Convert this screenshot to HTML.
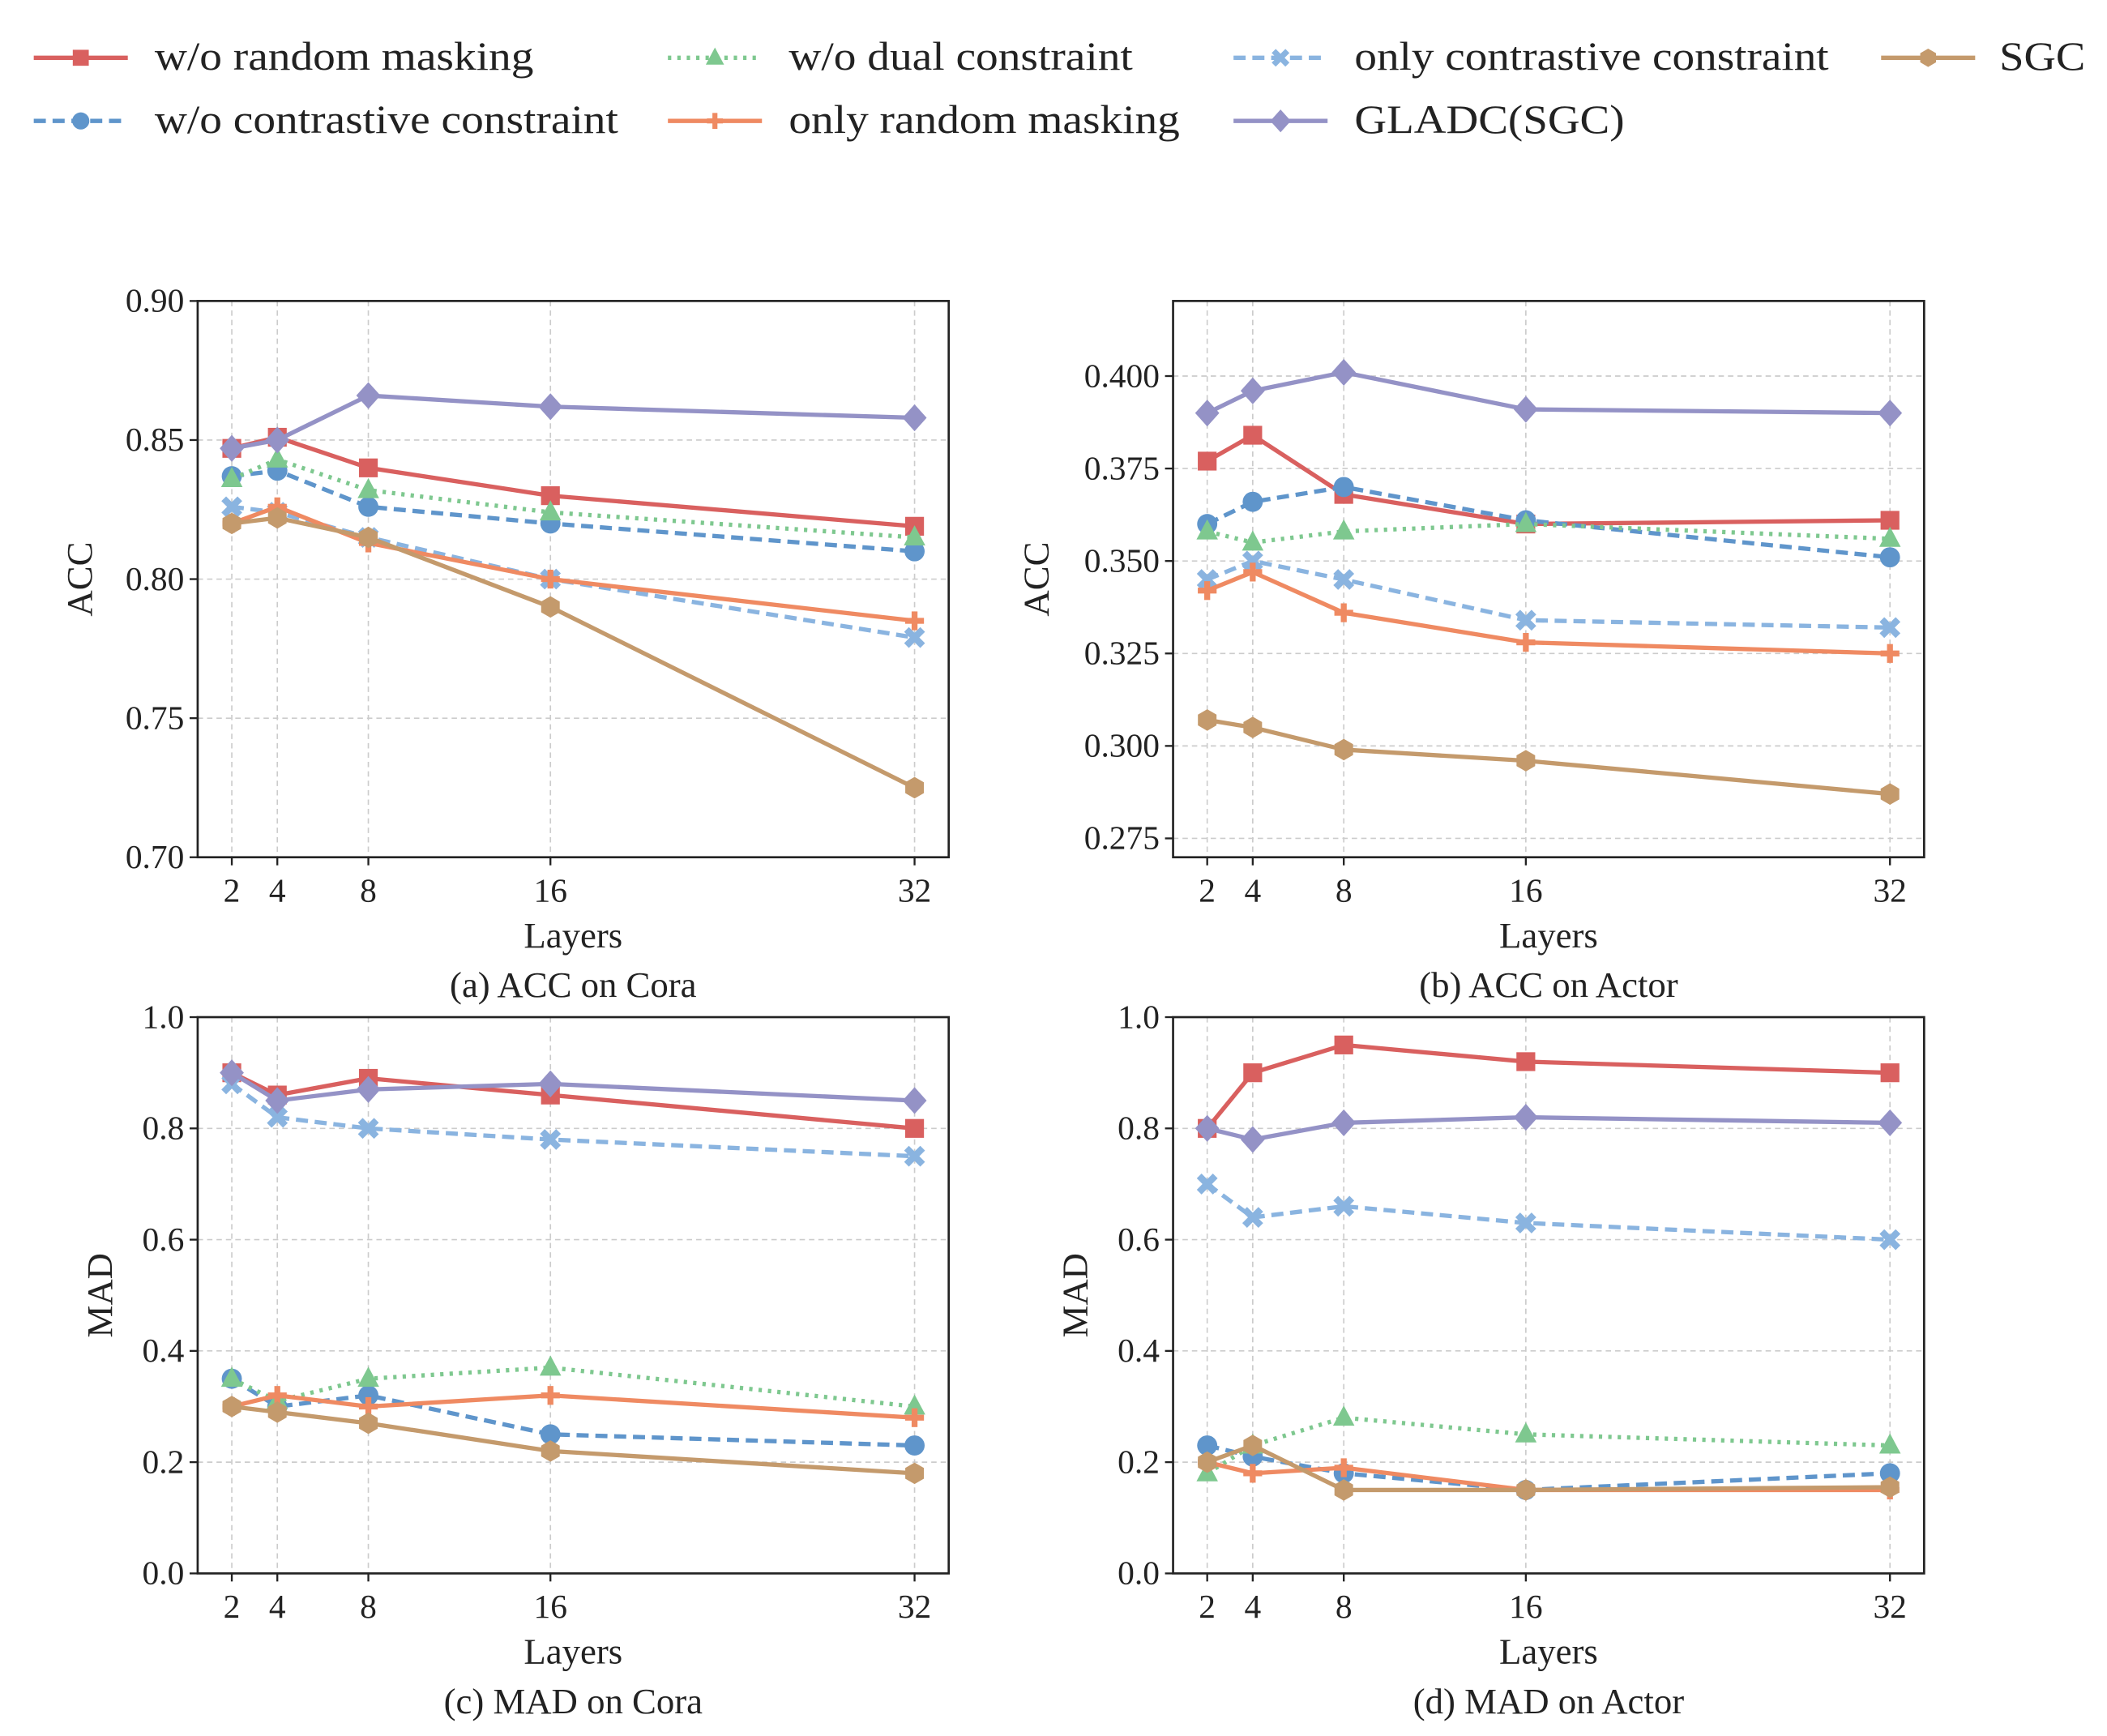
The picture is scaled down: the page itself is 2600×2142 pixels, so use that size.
<!DOCTYPE html>
<html><head><meta charset="utf-8"><style>
html,body{margin:0;padding:0;background:#fff}
svg{display:block;font-family:"Liberation Serif",serif}
</style></head><body>
<svg id="fig" width="2600" height="2142" viewBox="0 0 1568 1292" xmlns="http://www.w3.org/2000/svg"></svg>
<script>
const layers = [2, 4, 8, 16, 32];
const seriesNames = ["w/o random masking","w/o contrastive constraint","w/o dual constraint","only contrastive constraint","only random masking","SGC","GLADC(SGC)"];
const accCoraRM = [0.847,0.851,0.840,0.830,0.819];
const accCoraCC = [0.837,0.839,0.826,0.820,0.810];
const accCoraDC = [0.836,0.843,0.832,0.824,0.815];
const accCoraOC = [0.826,0.824,0.815,0.800,0.779];
const accCoraOR = [0.820,0.826,0.813,0.800,0.785];
const accCoraSGC = [0.820,0.822,0.815,0.790,0.725];
const accCoraGL = [0.847,0.850,0.866,0.862,0.858];
const accActorRM = [0.377,0.384,0.368,0.360,0.361];
const accActorCC = [0.360,0.366,0.370,0.361,0.351];
const accActorDC = [0.358,0.355,0.358,0.360,0.356];
const accActorOC = [0.345,0.350,0.345,0.334,0.332];
const accActorOR = [0.342,0.347,0.336,0.328,0.325];
const accActorSGC = [0.307,0.305,0.299,0.296,0.287];
const accActorGL = [0.390,0.396,0.401,0.391,0.390];
const madCoraRM = [0.90,0.86,0.89,0.86,0.80];
const madCoraCC = [0.35,0.30,0.32,0.25,0.23];
const madCoraDC = [0.35,0.31,0.35,0.37,0.30];
const madCoraOC = [0.88,0.82,0.80,0.78,0.75];
const madCoraOR = [0.30,0.32,0.30,0.32,0.28];
const madCoraSGC = [0.30,0.29,0.27,0.22,0.18];
const madCoraGL = [0.90,0.85,0.87,0.88,0.85];
const madActorRM = [0.80,0.90,0.95,0.92,0.90];
const madActorCC = [0.23,0.21,0.18,0.15,0.18];
const madActorDC = [0.18,0.23,0.28,0.25,0.23];
const madActorOC = [0.70,0.64,0.66,0.63,0.60];
const madActorOR = [0.20,0.18,0.19,0.15,0.15];
const madActorSGC = [0.20,0.23,0.15,0.15,0.155];
const madActorGL = [0.80,0.78,0.81,0.82,0.81];
const accCoraTicks = ["0.70","0.75","0.80","0.85","0.90"];
const accActorTicks = ["0.275","0.300","0.325","0.350","0.375","0.400"];
const madTicks = ["0.0","0.2","0.4","0.6","0.8","1.0"];

const NS="http://www.w3.org/2000/svg";
const svg=document.getElementById('fig');
function mk(tag,attrs,parent){const e=document.createElementNS(NS,tag);for(const k in attrs)e.setAttribute(k,attrs[k]);(parent||svg).appendChild(e);return e;}
const styles=[
 {c:"#d9605f",dash:"",m:"square"},
 {c:"#5f95cb",dash:"9,5",m:"circle"},
 {c:"#7ec88f",dash:"2.5,4.5",m:"triangle"},
 {c:"#8ab4e0",dash:"9,5",m:"x"},
 {c:"#ef8a62",dash:"",m:"plus"},
 {c:"#c49a6c",dash:"",m:"hex"},
 {c:"#9492c6",dash:"",m:"diamond"}];
function marker(g,type,x,y,c,s){
 s=s||1;
 if(type==="square")return mk('rect',{x:x-7*s,y:y-7*s,width:14*s,height:14*s,fill:c},g);
 if(type==="circle")return mk('circle',{cx:x,cy:y,r:7.5*s,fill:c},g);
 if(type==="triangle")return mk('polygon',{points:`${x},${y-9*s} ${x+8*s},${y+6*s} ${x-8*s},${y+6*s}`,fill:c},g);
 if(type==="diamond")return mk('polygon',{points:`${x},${y-10*s} ${x+9*s},${y} ${x},${y+10*s} ${x-9*s},${y}`,fill:c},g);
 if(type==="hex"){let p=[];for(let i=0;i<6;i++){const a=Math.PI/6+i*Math.PI/3;p.push((x+8*s*Math.cos(a))+","+(y+8*s*Math.sin(a)));}return mk('polygon',{points:p.join(' '),fill:c},g);}
 if(type==="plus"){const gg=mk('g',{},g);mk('rect',{x:x-7*s,y:y-2.2*s,width:14*s,height:4.4*s,fill:c},gg);mk('rect',{x:x-2.2*s,y:y-7*s,width:4.4*s,height:14*s,fill:c},gg);return gg;}
 if(type==="x"){const gg=mk('g',{},g);mk('line',{x1:x-6*s,y1:y-6*s,x2:x+6*s,y2:y+6*s,stroke:c,'stroke-width':5*s},gg);mk('line',{x1:x-6*s,y1:y+6*s,x2:x+6*s,y2:y-6*s,stroke:c,'stroke-width':5*s},gg);return gg;}
}
function panel(name,L,T,W,H,ymin,ymax,ticks,data,ylabel,yLabX,caption){
 const g=mk('g',{});
 
 
 const X=v=>L+(v-0.5)/(33.5-0.5)*W;
 const Y=v=>T+H-(v-ymin)/(ymax-ymin)*H;
 layers.forEach(v=>{const l=mk('line',{x1:X(v),x2:X(v),y1:T,y2:T+H,stroke:"#cccccc",'stroke-width':1,'stroke-dasharray':"4,3"},g);});
 ticks.forEach(t=>{const v=parseFloat(t);const l=mk('line',{x1:L,x2:L+W,y1:Y(v),y2:Y(v),stroke:"#cccccc",'stroke-width':1,'stroke-dasharray':"4,3"},g);});
 data.forEach((vals,i)=>{
  const st=styles[i];
  const sg=mk('g',{},g);
  
  
  const pts=vals.map((v,j)=>X(layers[j])+","+Y(v)).join(' ');
  const pl=mk('polyline',{points:pts,fill:'none',stroke:st.c,'stroke-width':3.2,'stroke-dasharray':st.dash,'stroke-linejoin':'round'},sg);
  
  
  vals.forEach((v,j)=>{const m=marker(sg,st.m,X(layers[j]),Y(v),st.c);});
 });
 const fr=mk('rect',{x:L,y:T,width:W,height:H,fill:'none',stroke:'#222','stroke-width':1.6},g);
 
 ticks.forEach(t=>{const v=parseFloat(t);mk('line',{x1:L-6,x2:L,y1:Y(v),y2:Y(v),stroke:'#222','stroke-width':1.4},g);
  const tx=mk('text',{x:L-10,y:Y(v)+8,'text-anchor':'end','font-size':25,fill:'#222'},g);tx.textContent=t;
  });
 layers.forEach(v=>{mk('line',{x1:X(v),x2:X(v),y1:T+H,y2:T+H+6,stroke:'#222','stroke-width':1.4},g);
  const tx=mk('text',{x:X(v),y:T+H+33,'text-anchor':'middle','font-size':25,fill:'#222'},g);tx.textContent=v;
  });
 const xl=mk('text',{x:L+W/2,y:T+H+67,'text-anchor':'middle','font-size':27,fill:'#222'},g);xl.textContent="Layers";
 
 const yl=mk('text',{x:yLabX,y:T+H/2,'text-anchor':'middle','font-size':27,fill:'#222',transform:`rotate(-90 ${yLabX} ${T+H/2})`},g);yl.textContent=ylabel;
 
 const cp=mk('text',{x:L+W/2,y:T+H+104,'text-anchor':'middle','font-size':27,fill:'#222'},g);cp.textContent=caption;
 
}
panel('panel-acc-cora',147,224,559,414,0.70,0.90,accCoraTicks,[accCoraRM,accCoraCC,accCoraDC,accCoraOC,accCoraOR,accCoraSGC,accCoraGL],"ACC",68,"(a) ACC on Cora");
panel('panel-acc-actor',873,224,559,414,0.2699,0.4203,accActorTicks,[accActorRM,accActorCC,accActorDC,accActorOC,accActorOR,accActorSGC,accActorGL],"ACC",780,"(b) ACC on Actor");
panel('panel-mad-cora',147,757,559,414,0,1,madTicks,[madCoraRM,madCoraCC,madCoraDC,madCoraOC,madCoraOR,madCoraSGC,madCoraGL],"MAD",83,"(c) MAD on Cora");
panel('panel-mad-actor',873,757,559,414,0,1,madTicks,[madActorRM,madActorCC,madActorDC,madActorOC,madActorOR,madActorSGC,madActorGL],"MAD",809,"(d) MAD on Actor");

// legend
const lg=mk('g',{});


const legPos=[[25,43,115,282],[25,90,115,345],[497,43,587,256],[918,43,1008,353],[497,90,587,291],[1400,43,1488,64],[918,90,1008,201]];
seriesNames.forEach((n,i)=>{
 const [lx,ly,tx,tw]=legPos[i];const st=styles[i];
 const e=mk('g',{},lg);
 
 
 mk('line',{x1:lx,x2:lx+70,y1:ly,y2:ly,stroke:st.c,'stroke-width':3.2,'stroke-dasharray':st.dash},e);
 marker(e,st.m,lx+35,ly,st.c,0.85);
 const t=mk('text',{x:tx,y:ly+9,'font-size':30,fill:'#222',textLength:tw,lengthAdjust:'spacingAndGlyphs'},e);
 t.textContent=n;
});
</script>
</body></html>
